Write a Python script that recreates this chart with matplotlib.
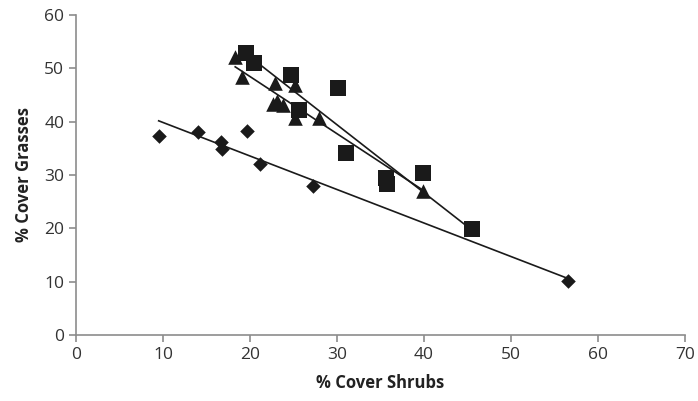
import numpy as np
import matplotlib
matplotlib.use("Agg")
import matplotlib.pyplot as plt

# shrub cover vs grass cover, three groups
diamond_x = [9.5, 14.0, 16.7, 16.8, 19.7, 21.1, 27.2, 56.6]
diamond_y = [37.3, 38.0, 36.1, 34.9, 38.3, 32.0, 28.0, 10.1]

triangle_x = [18.3, 19.1, 22.9, 25.2, 22.6, 23.1, 23.8, 25.2, 27.9, 39.9]
triangle_y = [52.1, 48.3, 47.3, 46.8, 43.3, 43.8, 43.1, 40.6, 40.6, 27.0]

square_x = [19.5, 20.5, 24.7, 30.1, 25.6, 31.1, 35.7, 35.8, 39.9, 45.5]
square_y = [52.9, 51.0, 48.8, 46.3, 42.2, 34.1, 29.4, 28.3, 30.4, 19.9]

xticks = list(range(0, 71, 10))
yticks = list(range(0, 61, 10))

plt.rcParams['font.family'] = ['Open Sans', 'DejaVu Sans']

fig = plt.figure(figsize=(6.98, 4.01), dpi=100)
ax = fig.add_axes([0.109, 0.165, 0.872, 0.798])

mk = '#1a1a1a'
ax.scatter(diamond_x, diamond_y, marker='D', s=55, color=mk, zorder=3, linewidths=0)
ax.scatter(triangle_x, triangle_y, marker='^', s=110, color=mk, zorder=3, linewidths=0)
ax.scatter(square_x, square_y, marker='s', s=130, color=mk, zorder=3, linewidths=0)

# linear trend lines
for xs, ys in [(diamond_x, diamond_y), (triangle_x, triangle_y), (square_x, square_y)]:
    xs = np.array(xs)
    m, b = np.polyfit(xs, ys, 1)
    xl = np.array([xs.min(), xs.max()])
    ax.plot(xl, m * xl + b, color=mk, linewidth=1.2, zorder=2)

ax.set_xlim(0, 70)
ax.set_ylim(0, 60)
ax.set_xticks(xticks)
ax.set_yticks(yticks)

for side in ['top', 'right']:
    ax.spines[side].set_visible(False)
for side in ['left', 'bottom']:
    ax.spines[side].set_color('#8c8c8c')
    ax.spines[side].set_linewidth(1.2)
ax.tick_params(colors='#8c8c8c', length=5, width=1.2, labelsize=12.5, labelcolor='#333333')

ax.set_xlabel('% Cover Shrubs', fontsize=12, fontweight='bold', color='#222222', labelpad=8)
ax.set_ylabel('% Cover Grasses', fontsize=12, fontweight='bold', color='#222222', labelpad=8)

fig.savefig('out.png', dpi=100)
